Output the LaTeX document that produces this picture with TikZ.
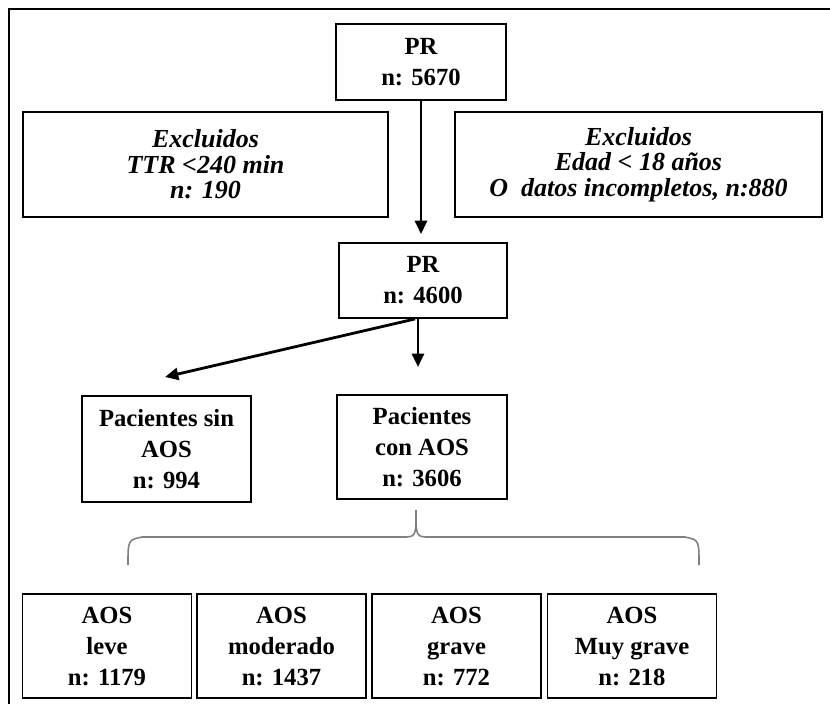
\documentclass[tikz,border=0pt]{standalone}
\usepackage{fontspec}
\setmainfont{Liberation Serif}
\usetikzlibrary{arrows.meta}

\begin{document}
\begin{tikzpicture}[x=0.75pt,y=-0.75pt,
  flowbox/.style={draw,line width=1.4pt,align=center,inner sep=0pt,
    font=\fontsize{18.5}{23.25}\selectfont\bfseries},
  exclbox/.style={flowbox,font=\fontsize{19.5}{19.1}\selectfont\bfseries\itshape},
  flowarrow/.style={line width=2.1pt,-{Triangle[length=10pt,width=9pt]}}]
\useasboundingbox (0,0) rectangle (830,704);
% outer frame
\draw[line width=0.8pt] (9,704) -- (9,9) -- (830,9);
% top part
\node[flowbox,minimum width=127.5pt,minimum height=57pt] (pr1) at (421,62) {PR\\n: 5670};
\node[exclbox,minimum width=273.75pt,minimum height=78.75pt] (exclttr) at (205.5,164.5)
  {Excluidos\\TTR <240 min\\n: 190};
\node[exclbox,minimum width=275.25pt,minimum height=78.75pt] (excledad) at (638.5,164.5)
  {Excluidos\\Edad < 18 años\\O\ \ datos incompletos, n:880};
\node[flowbox,minimum width=126pt,minimum height=56.25pt] (pr2) at (423,280.5) {PR\\n: 4600};
\draw[flowarrow,shorten >=6pt] (pr1.south) -- (pr1.south |- pr2.north);
% split
\node[flowbox,minimum width=126.75pt,minimum height=79.5pt] (sinaos) at (166.5,449)
  {Pacientes sin\\AOS\\n: 994};
\node[flowbox,minimum width=127.5pt,minimum height=78pt] (conaos) at (422,447)
  {Pacientes\\con AOS\\n: 3606};
\coordinate (sintip) at (165,377);
\coordinate (contip) at (418,367);
\draw[flowarrow] ([xshift=-6pt]pr2.south) -- (sintip);
\draw[flowarrow] (pr2.south -| contip) -- (contip);
% brace
\draw[gray,line width=1.2pt] (128,565) .. controls (128,540) .. (142,537) -- (402,537)
  .. controls (416,537) .. (416,510) .. controls (416,537) .. (430,537) -- (685,537)
  .. controls (699,540) .. (699,565);
% severity boxes
\foreach \nm/\pos/\lbl/\num in {aosleve/107/leve/1179,aosmod/281.5/moderado/1437,
    aosgrave/456.5/grave/772,aosmuy/632/Muy grave/218}
  {\node[flowbox,minimum width=126.75pt,minimum height=78pt] (\nm) at (\pos,646)
    {AOS\\\lbl\\n: \num};}
\end{tikzpicture}
\end{document}
